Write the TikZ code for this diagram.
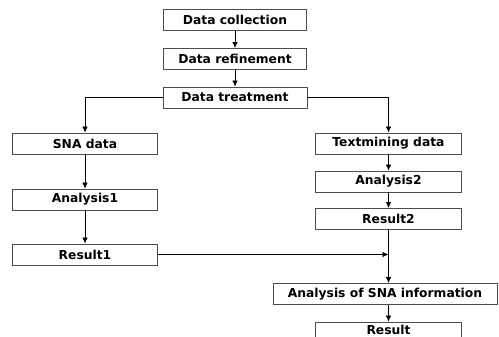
\documentclass[tikz,border=0pt]{standalone}
\usepackage{fontspec}
\setmainfont{DejaVu Sans}
\usepackage{tikz}
\usetikzlibrary{arrows.meta}

\begin{document}
\begin{tikzpicture}
    [%%%%%%%%%%%%%%%%%%%%%%%%%%%%%%
        x=1pt, y=-1pt,
        box/.style={rectangle,draw=black!70,line width=0.9pt,minimum height=21pt,
            inner sep=0pt,font=\fontsize{12.3}{14}\selectfont\bfseries},
        arr/.style={-{Latex[length=6pt,width=5.5pt]},line width=0.7pt}
    ]%%%%%%%%%%%%%%%%%%%%%%%%%%%%%%
\useasboundingbox (0,0) rectangle (499,337);

\node[box,minimum width=143pt] (coll)  at (235,20)  {Data collection};
\node[box,minimum width=143pt] (refine) at (235,59)  {Data refinement};
\node[box,minimum width=144pt] (treat) at (235,97.5) {Data treatment};

\node[box,minimum width=145pt] (sna)  at (85,143.5) {SNA data};
\node[box,minimum width=145pt] (ana1) at (85,199.5) {Analysis1};
\node[box,minimum width=145pt] (res1) at (85,254.5) {Result1};

\node[box,minimum width=146pt] (tm)   at (388.5,143.5) {Textmining data};
\node[box,minimum width=146pt] (ana2) at (388.5,181.5) {Analysis2};
\node[box,minimum width=146pt] (res2) at (388.5,219)   {Result2};

\node[box,minimum width=224pt] (snainfo) at (385,294)  {Analysis of SNA information};
\node[box,minimum width=146pt,minimum height=16pt] (result) at (388.5,330) {Result};

\coordinate (join) at (res2.south |- res1.east);

\draw [arr] (coll) -- (refine);
\draw [arr] (refine) -- (treat);
\draw [arr] (treat.west) -| (sna.north);
\draw [arr] (treat.east) -| (tm.north);

\draw [arr] (sna) -- (ana1);
\draw [arr] (ana1) -- (res1);

\draw [arr] (tm) -- (ana2);
\draw [arr] (ana2) -- (res2);
\draw [arr] (res2.south) -- (res2.south |- snainfo.north);
\draw [arr] (res1.east) -- (join);
\draw [arr] (snainfo.south -| result.north) -- (result.north);

\end{tikzpicture}
\end{document}
